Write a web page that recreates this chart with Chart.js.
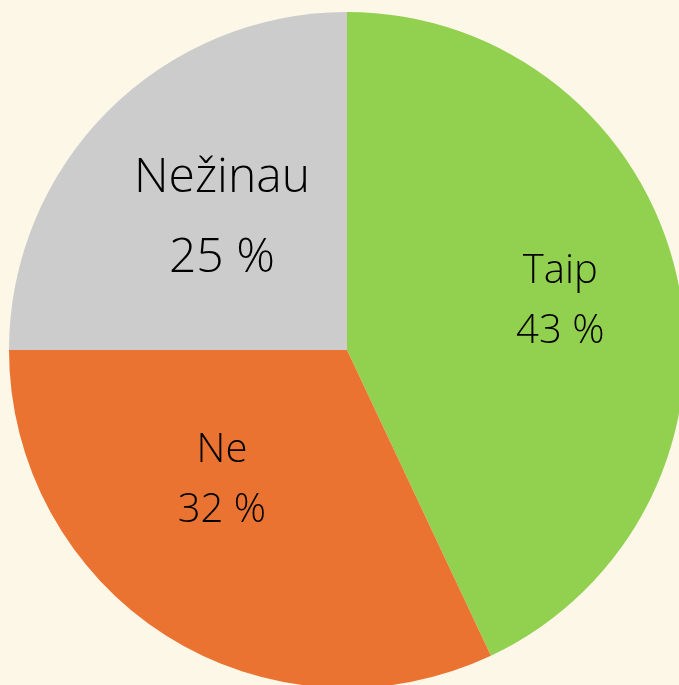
<!DOCTYPE html>
<html>
<head>
<meta charset="utf-8">
<script src="https://cdn.jsdelivr.net/npm/chart.js@4"></script>
<style>
  html, body { margin: 0; padding: 0; background: #FDF7E8; overflow: hidden; width: 679px; height: 685px; }
  #wrap { position: absolute; left: 9px; top: 12px; width: 676px; height: 676px; }
</style>
</head>
<body>
<div id="wrap"><canvas id="c"></canvas></div>
<script>
const categories = ["Taip", "Ne", "Nežinau"];
const values = [43, 32, 25];
const valueLabels = ["43 %", "32 %", "25 %"];
const colors = ["#92D050", "#EB7332", "#CCCCCC"];

// label placement relative to pie centre, in units of radius
const labelPlacement = [
  { dx: 0.631, dy: -0.199, gap: 0.178, size: 40 },
  { dx: -0.370, dy: 0.332, gap: 0.178, size: 40 },
  { dx: -0.370, dy: -0.468, gap: 0.237, size: 48 }
];

const sliceLabels = {
  id: "sliceLabels",
  afterDatasetsDraw(chart) {
    const ctx = chart.ctx;
    const meta = chart.getDatasetMeta(0);
    meta.data.forEach((arc, i) => {
      const p = labelPlacement[i];
      const r = arc.outerRadius;
      const x = arc.x + p.dx * r;
      const y = arc.y + p.dy * r;
      ctx.save();
      ctx.fillStyle = "#000000";
      ctx.textAlign = "center";
      ctx.textBaseline = "alphabetic";
      ctx.font = "300 " + p.size + "px 'Open Sans', 'Noto Sans', sans-serif";
      ctx.fillText(categories[i], x, y);
      ctx.fillText(valueLabels[i], x, y + p.gap * r);
      ctx.restore();
    });
  }
};

new Chart(document.getElementById("c"), {
  type: "pie",
  data: {
    labels: categories,
    datasets: [{
      data: values,
      backgroundColor: colors,
      borderWidth: 0
    }]
  },
  options: {
    responsive: true,
    maintainAspectRatio: false,
    animation: false,
    layout: { padding: 0 },
    plugins: {
      legend: { display: false },
      tooltip: { enabled: false }
    }
  },
  plugins: [sliceLabels]
});
</script>
</body>
</html>
